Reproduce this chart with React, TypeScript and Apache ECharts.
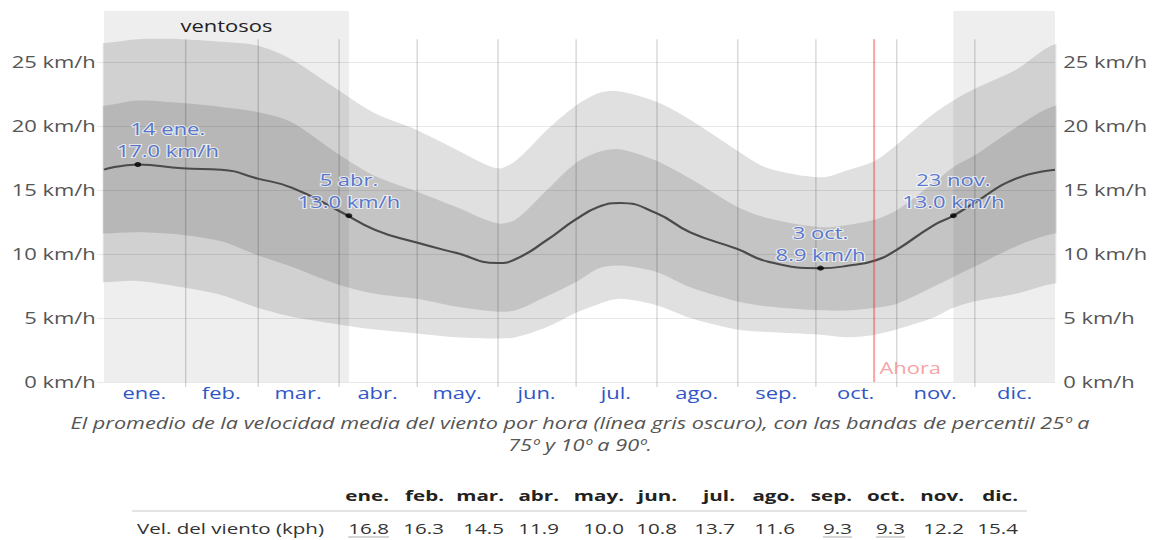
import React, { useEffect, useRef } from "react";
import * as echarts from "echarts";

// ---------- data ----------
const days = [0, 13, 30, 45, 59, 72, 90, 104, 120, 135, 151, 158, 170, 181, 190, 198, 212, 225, 243, 255, 275, 286, 296, 304, 318, 326, 334, 350, 365];
const meanSpeed = [16.6, 17.0, 16.7, 16.6, 15.9, 15.2, 13.4, 11.9, 10.9, 10.1, 9.3, 9.6, 11.1, 12.7, 13.7, 14.0, 13.2, 11.7, 10.4, 9.4, 8.9, 9.1, 9.5, 10.3, 12.2, 13.0, 14.0, 15.9, 16.6];
const p90 = [26.5, 26.8, 26.8, 26.6, 26.3, 25.2, 22.8, 21.0, 19.7, 18.2, 16.7, 17.3, 19.7, 21.6, 22.6, 22.7, 21.9, 20.5, 18.1, 16.7, 16.0, 16.6, 17.3, 18.5, 20.9, 22.0, 22.9, 24.4, 26.4];
const p75 = [21.6, 22.0, 21.8, 21.5, 21.1, 20.3, 17.8, 16.1, 14.9, 13.7, 12.4, 12.7, 15.0, 17.1, 18.0, 18.2, 17.3, 15.9, 13.7, 12.8, 12.1, 12.3, 12.7, 13.4, 15.5, 16.8, 17.7, 19.9, 21.6];
const p25 = [11.6, 11.7, 11.5, 11.0, 9.9, 9.0, 7.6, 6.9, 6.5, 5.9, 5.5, 5.6, 6.7, 7.8, 8.9, 9.1, 8.6, 7.4, 6.3, 5.9, 5.6, 5.6, 5.8, 6.1, 7.4, 8.2, 9.0, 10.6, 11.6];
const p10 = [7.8, 7.9, 7.4, 6.8, 5.8, 5.1, 4.5, 4.1, 3.8, 3.5, 3.4, 3.5, 4.3, 5.4, 6.1, 6.5, 6.0, 5.0, 4.1, 3.9, 3.7, 3.5, 3.7, 4.1, 5.0, 5.8, 6.3, 6.9, 7.7];

const monthNames = ["ene.", "feb.", "mar.", "abr.", "may.", "jun.", "jul.", "ago.", "sep.", "oct.", "nov.", "dic."];
const monthStarts = [0, 31, 59, 90, 120, 151, 181, 212, 243, 273, 304, 334, 365];
const yTicks = [0, 5, 10, 15, 20, 25];

const annotationDays = [13, 94, 275, 326];
const annotationValues = [17.0, 13.0, 8.9, 13.0];
const annotationDates = ["14 ene.", "5 abr.", "3 oct.", "23 nov."];

const windyStart = [0, 326];
const windyEnd = [94, 365];
const windyLabel = "ventosos";
const nowDay = 295.5;
const nowLabel = "Ahora";

const tableRowLabel = "Vel. del viento (kph)";
const tableValues = [16.8, 16.3, 14.5, 11.9, 10.0, 10.8, 13.7, 11.6, 9.3, 9.3, 12.2, 15.4];
const captionLines = [
  "El promedio de la velocidad media del viento por hora (línea gris oscuro), con las bandas de percentil 25º a",
  "75º y 10º a 90º.",
];

// ---------- layout ----------
const OUT_W = 1155;
const IN_W = 843;
const SX = OUT_W / IN_W;
const H = 540;
const px = (x: number) => x / SX;
const FONT = "'Open Sans', sans-serif";
const BLUE = "#2f56c6";
const Y_MAX = 29;
const LINE_TOP = 26.8;
const colRight = [389, 444, 504, 559, 624, 677, 735, 795, 852, 905, 964, 1018];

function bandSeries(name: string, lower: number[], upper: number[]): any {
  return {
    type: "custom",
    name,
    data: days.map((d, i) => [d, lower[i], upper[i]]),
    encode: { x: 0, y: [1, 2] },
    silent: true,
    clip: true,
    z: 2,
    renderItem: (params: any, api: any) => {
      if (params.dataIndex !== 0) return null;
      const n = params.dataInsideLength || days.length;
      const top: number[][] = [];
      const bottom: number[][] = [];
      for (let i = 0; i < n; i++) {
        top.push(api.coord([api.value(0, i), api.value(2, i)]));
        bottom.push(api.coord([api.value(0, i), api.value(1, i)]));
      }
      const ext = 30;
      const pts = [
        [top[0][0] - ext, top[0][1]],
        ...top,
        [top[n - 1][0] + ext, top[n - 1][1]],
        [bottom[n - 1][0] + ext, bottom[n - 1][1]],
        ...bottom.slice().reverse(),
        [bottom[0][0] - ext, bottom[0][1]],
      ];
      return {
        type: "polygon",
        shape: { points: pts, smooth: 0.3 },
        style: { fill: "rgba(0,0,0,0.12)" },
      };
    },
  };
}

function buildOption(): any {
  const monthMid = monthStarts.slice(0, 12).map((s, i) => (s + monthStarts[i + 1]) / 2);
  const boundaries = monthStarts.slice(1, 12);
  const pairs = (arr: number[]) => days.map((d, i) => [d, arr[i]]);
  const ylab = (v: number) => `${v} km/h`;

  const maxV = Math.max(...tableValues);
  const minV = Math.min(...tableValues);

  const graphic: any[] = [];
  graphic.push({
    type: "text",
    x: px(580),
    y: 412,
    style: {
      text: captionLines.join("\n"),
      align: "center",
      verticalAlign: "top",
      fontFamily: FONT,
      fontStyle: "italic",
      fontSize: 15.8,
      lineHeight: 22,
      fill: "#555",
    },
  });
  graphic.push({
    type: "line",
    shape: { x1: px(132), y1: 511, x2: px(1027), y2: 511 },
    style: { stroke: "#e4e4e4", lineWidth: 2 },
  });
  graphic.push({
    type: "text",
    x: px(137),
    y: 528,
    style: { text: tableRowLabel, align: "left", verticalAlign: "middle", fontFamily: FONT, fontSize: 15, fill: "#333" },
  });
  monthNames.forEach((m, i) => {
    graphic.push({
      type: "text",
      x: px(colRight[i]),
      y: 495,
      style: { text: m, align: "right", verticalAlign: "middle", fontFamily: FONT, fontWeight: "bold", fontSize: 15, fill: "#222" },
    });
    const txt = tableValues[i].toFixed(1);
    graphic.push({
      type: "text",
      x: px(colRight[i]),
      y: 528,
      style: { text: txt, align: "right", verticalAlign: "middle", fontFamily: FONT, fontSize: 15, fill: "#333" },
    });
    if (tableValues[i] === maxV || tableValues[i] === minV) {
      const w = ((txt.length - 1) * 0.572 + 0.266) * 15;
      graphic.push({
        type: "line",
        shape: { x1: px(colRight[i]) - w, y1: 537, x2: px(colRight[i]), y2: 537 },
        style: { stroke: "#aaa", lineWidth: 1 },
      });
    }
  });

  return {
    animation: false,
    grid: { left: px(104), right: IN_W - px(1055), top: 11, bottom: 158 },
    xAxis: {
      type: "value",
      min: 0,
      max: 365,
      axisLine: { show: false },
      splitLine: { show: false },
      axisTick: { show: true, customValues: boundaries, length: 5, lineStyle: { color: "rgba(0,0,0,0.16)" } },
      axisLabel: {
        customValues: monthMid,
        formatter: (v: number) => {
          let best = 0;
          monthMid.forEach((m, i) => { if (Math.abs(m - v) < Math.abs(monthMid[best] - v)) best = i; });
          return monthNames[best];
        },
        color: BLUE,
        fontFamily: FONT,
        fontSize: 16,
        margin: 3,
      },
    },
    yAxis: [
      {
        type: "value",
        min: 0,
        max: Y_MAX,
        position: "left",
        axisLine: { show: false },
        splitLine: { show: false },
        axisTick: { show: true, customValues: yTicks, length: 5, lineStyle: { color: "rgba(0,0,0,0.09)" } },
        axisLabel: { customValues: yTicks, formatter: ylab, color: "#555", fontFamily: FONT, fontSize: 16, margin: 6 },
      },
      {
        type: "value",
        min: 0,
        max: Y_MAX,
        position: "right",
        axisLine: { show: false },
        splitLine: { show: false },
        axisTick: { show: false },
        axisLabel: { customValues: yTicks, formatter: ylab, color: "#555", fontFamily: FONT, fontSize: 16, margin: 6 },
      },
    ],
    series: [
      bandSeries("p10-p90", p10, p90),
      bandSeries("p25-p75", p25, p75),
      {
        type: "line",
        name: "media",
        data: pairs(meanSpeed),
        smooth: true,
        symbol: "none",
        silent: true,
        lineStyle: { color: "#4a4a4a", width: 2 },
        z: 3,
        markArea: {
          silent: true,
          z: 1,
          itemStyle: { color: "#eeeeee" },
          label: { show: true, position: "insideTop", distance: 7, color: "#222", fontFamily: FONT, fontSize: 16 },
          data: windyStart.map((s, i) => [
            { xAxis: s, name: i === 0 ? windyLabel : "", label: { show: i === 0 } },
            { xAxis: windyEnd[i] },
          ]),
        },
        markLine: {
          silent: true,
          z: 2,
          symbol: "none",
          label: { show: false },
          data: [
            ...yTicks.map((v) => ({ yAxis: v, lineStyle: { color: "rgba(0,0,0,0.09)", width: 1, type: "solid" } })),
            ...boundaries.map((b) => [
              { coord: [b, 0], lineStyle: { color: "rgba(0,0,0,0.16)", width: 1, type: "solid" } },
              { coord: [b, LINE_TOP] },
            ]),
          ],
        },
      },
      {
        type: "scatter",
        name: "ahora",
        data: [[nowDay, 0]],
        symbolSize: 0,
        silent: true,
        z: 4,
        label: {
          show: true,
          position: "right",
          distance: 4,
          offset: [0, -14],
          formatter: () => nowLabel,
          color: "#f58a8a",
          fontFamily: FONT,
          fontSize: 16,
        },
        markLine: {
          silent: true,
          symbol: "none",
          label: { show: false },
          lineStyle: { color: "rgba(240,40,40,0.42)", width: 1.5, type: "solid" },
          data: [[{ coord: [nowDay, 0] }, { coord: [nowDay, LINE_TOP] }]],
        },
      },
      {
        type: "scatter",
        name: "anotaciones",
        data: annotationDays.map((d, i) => ({
          name: annotationDates[i],
          value: [d, annotationValues[i]],
          label: i === 0 ? { offset: [px(30), 0] } : {},
        })),
        symbolSize: 5,
        itemStyle: { color: "#000" },
        silent: true,
        z: 5,
        label: {
          show: true,
          position: "top",
          distance: 0,
          formatter: (p: any) => `${p.name}\n${p.value[1].toFixed(1)} km/h`,
          color: BLUE,
          fontFamily: FONT,
          fontSize: 16,
          lineHeight: 22,
          textBorderColor: "rgba(255,255,255,0.85)",
          textBorderWidth: 2,
        },
      },
    ],
    graphic,
  };
}

export default function App() {
  const ref = useRef<HTMLDivElement>(null);
  useEffect(() => {
    if (!ref.current) return;
    const chart = echarts.init(ref.current, null, { renderer: "svg" });
    chart.setOption(buildOption());
    return () => chart.dispose();
  }, []);
  return (
    <div style={{ position: "absolute", left: 0, top: 0, width: OUT_W, height: H, overflow: "hidden", background: "#fff" }}>
      <div
        ref={ref}
        style={{ width: IN_W, height: H, transform: `scaleX(${SX})`, transformOrigin: "0 0" }}
      />
    </div>
  );
}
